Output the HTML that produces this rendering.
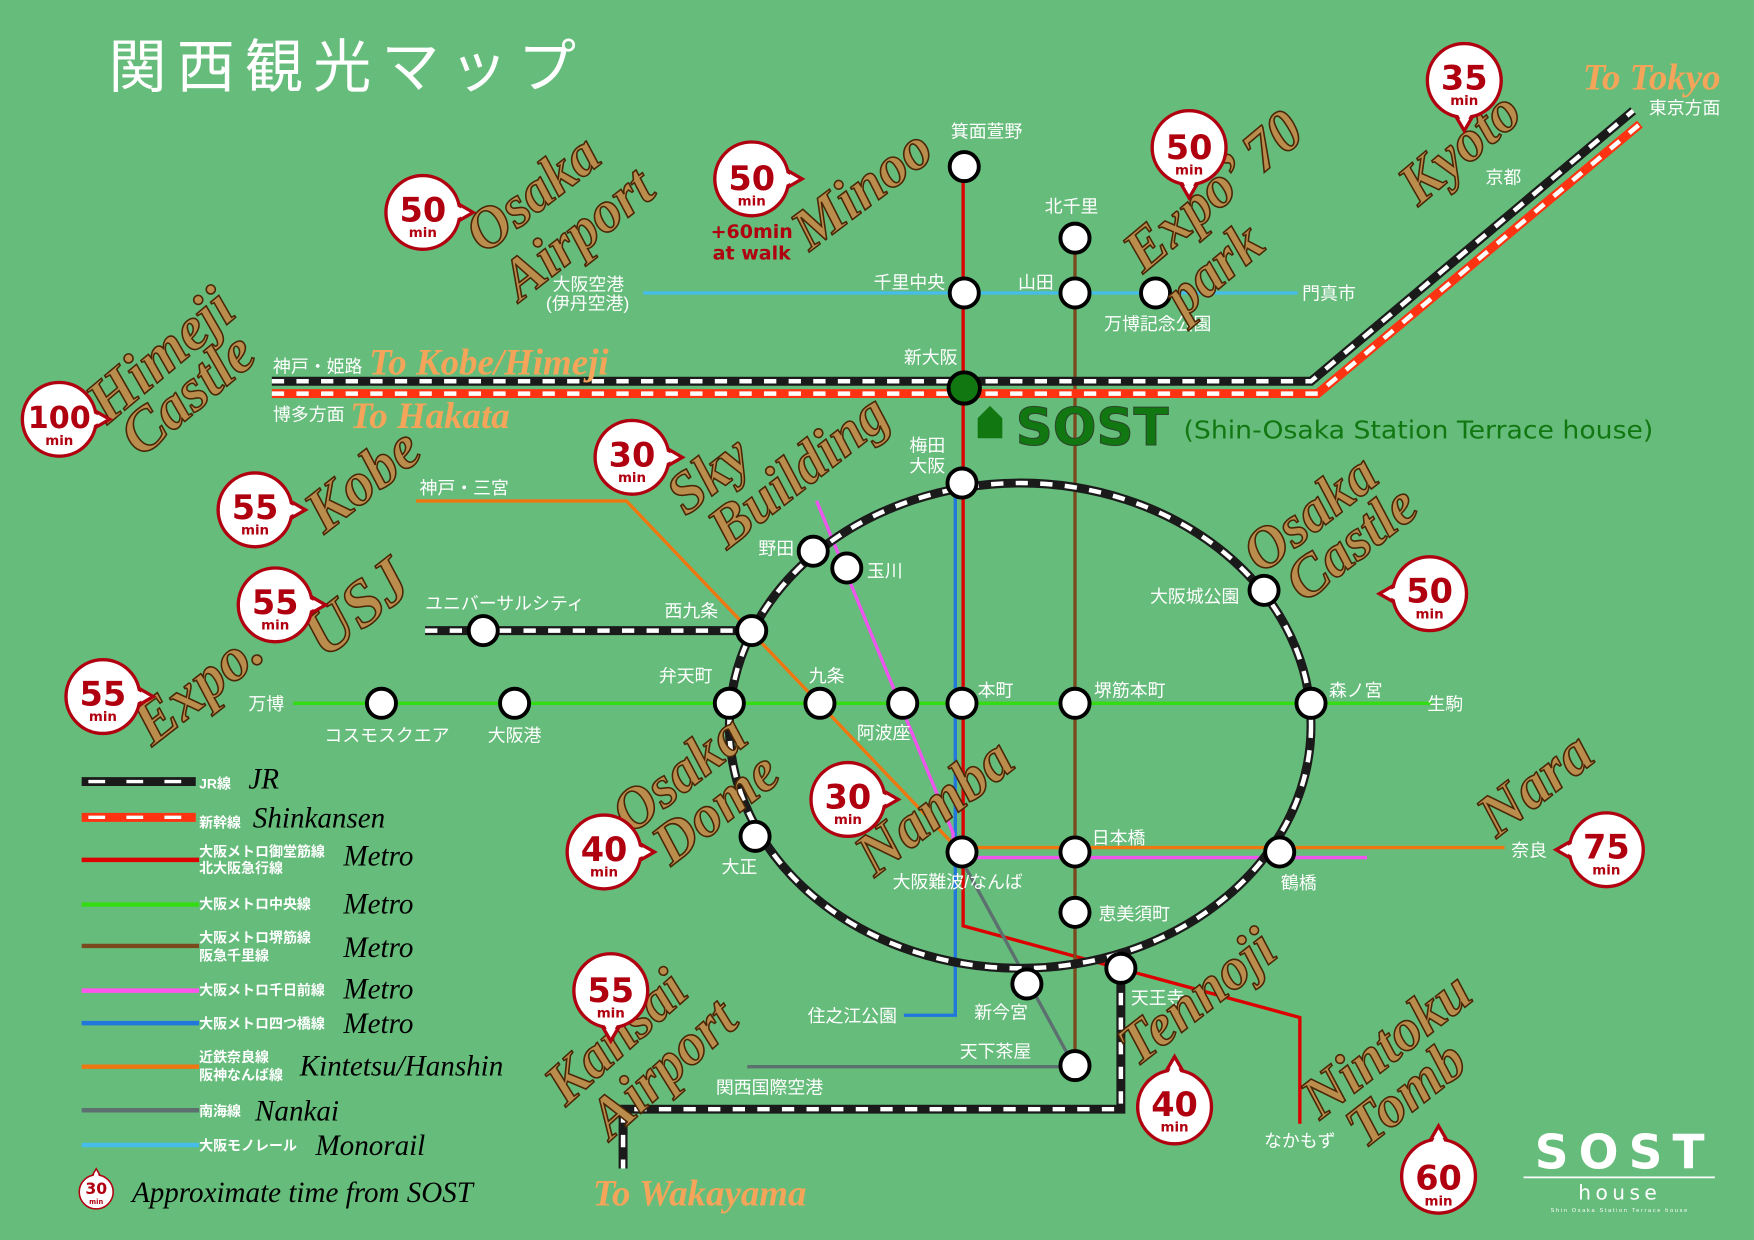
<!DOCTYPE html>
<html><head><meta charset="utf-8"><style>
html,body{margin:0;padding:0;background:#66bc7b;}
svg{display:block}
.w{fill:#fff;font-family:"Liberation Sans","Noto Sans CJK JP",sans-serif;font-size:16px}
.b{fill:#bb8d4c;stroke:#4a2606;stroke-width:1.4;font-family:"Liberation Serif",serif;font-style:italic;font-weight:bold;font-size:52px}
.o{fill:#f4a55a;font-family:"Liberation Serif",serif;font-style:italic;font-weight:bold;font-size:33px}
.n{fill:#b00010;font-family:"DejaVu Sans","Liberation Sans",sans-serif;font-weight:bold;text-anchor:middle}
.lg{fill:#fff;font-family:"Liberation Sans","Noto Sans CJK JP",sans-serif;font-weight:bold;font-size:12.5px}
.li{fill:#000;font-family:"Liberation Serif",serif;font-style:italic;font-size:26px}
</style></head><body>
<svg width="1754" height="1240" viewBox="0 0 1568 1109" preserveAspectRatio="none" xmlns="http://www.w3.org/2000/svg">
<defs>
<g id="bb"><polygon points="26,-11 45,0 26,11" fill="#fff" stroke="#b00010" stroke-width="3"/><circle r="33" fill="#fff" stroke="#b00010" stroke-width="3"/><polygon points="24,-9 41,0 24,9" fill="#fff"/></g>
<g id="st"><circle r="13" fill="#fff" stroke="#000" stroke-width="3.5"/></g>
</defs>
<rect width="1568" height="1109" fill="#66bc7b"/>
<text x="97" y="78" fill="#fff" font-family="Liberation Sans,Noto Sans CJK JP,sans-serif" font-size="52" letter-spacing="9">関西観光マップ</text>

<g fill="none" stroke-width="3">
<path d="M575,262 H1160" stroke="#45bde8"/>
<path d="M861,148 V828 L1162,910 V1005" stroke="#dd0000"/>
<path d="M961,213 V953" stroke="#7a4a1e"/>
<path d="M262,629 H1280" stroke="#33dd11"/>
<path d="M854,432 V908 H808" stroke="#2277dd"/>
<path d="M372,448 H560 L855,758 H1345" stroke="#ee7711"/>
<path d="M730,448 L852,745 V767 H1222" stroke="#ee55ee"/>
<path d="M860,770 L960,953 M668,954 H960" stroke="#5d7070"/>
</g>
<g fill="none">
<path d="M243,341 H1172 L1460,99" stroke="#1a1a1a" stroke-width="8"/>
<path d="M243,341 H1172 L1460,99" stroke="#fff" stroke-width="4" stroke-dasharray="11 11"/>
<path d="M243,352 H1178 L1466,111" stroke="#ff3311" stroke-width="8"/>
<path d="M243,352 H1178 L1466,111" stroke="#fff" stroke-width="4" stroke-dasharray="11 11"/>
<ellipse cx="912" cy="649" rx="260" ry="217" stroke="#1a1a1a" stroke-width="8"/>
<ellipse cx="912" cy="649" rx="260" ry="217" stroke="#fff" stroke-width="4" stroke-dasharray="11 11"/>
<path d="M380,564 H672 M1002,866 V992 H557 V1045" stroke="#1a1a1a" stroke-width="8"/>
<path d="M380,564 H672 M1002,866 V992 H557 V1045" stroke="#fff" stroke-width="4" stroke-dasharray="11 11"/>
</g>
<use href="#st" x="862" y="149"/><use href="#st" x="961" y="213"/><use href="#st" x="862" y="262"/><use href="#st" x="961" y="262"/><use href="#st" x="1033" y="262"/>
<circle cx="862" cy="347" r="14" fill="#117711" stroke="#000" stroke-width="3.5"/>
<use href="#st" x="860" y="432"/><use href="#st" x="727" y="493"/><use href="#st" x="757" y="508"/><use href="#st" x="672" y="564"/><use href="#st" x="432" y="564"/><use href="#st" x="1130" y="528"/>
<use href="#st" x="652" y="629"/><use href="#st" x="733" y="629"/><use href="#st" x="807" y="629"/><use href="#st" x="860" y="629"/><use href="#st" x="961" y="629"/><use href="#st" x="1172" y="629"/><use href="#st" x="341" y="629"/><use href="#st" x="460" y="629"/>
<use href="#st" x="675" y="748"/><use href="#st" x="860" y="762"/><use href="#st" x="961" y="762"/><use href="#st" x="1144" y="762"/><use href="#st" x="961" y="816"/><use href="#st" x="918" y="880"/><use href="#st" x="1002" y="866"/><use href="#st" x="961" y="953"/>

<g class="w">
<text x="850" y="123">箕面萱野</text><text x="934" y="190">北千里</text>
<text x="781" y="258">千里中央</text><text x="910" y="258">山田</text><text x="987" y="295">万博記念公園</text><text x="1164" y="268">門真市</text>
<text x="494" y="260">大阪空港</text><text x="488" y="277">(伊丹空港)</text>
<text x="808" y="325">新大阪</text><text x="244" y="333">神戸・姫路</text><text x="244" y="376">博多方面</text>
<text x="1474" y="102">東京方面</text><text x="1328" y="164">京都</text>
<text x="813" y="404">梅田</text><text x="813" y="422">大阪</text>
<text x="375" y="442">神戸・三宮</text><text x="678" y="496">野田</text><text x="775" y="516">玉川</text>
<text x="380" y="545">ユニバーサルシティ</text><text x="594" y="552">西九条</text><text x="1028" y="539">大阪城公園</text>
<text x="589" y="610">弁天町</text><text x="723" y="610">九条</text><text x="874" y="623">本町</text><text x="978" y="623">堺筋本町</text><text x="1188" y="623">森ノ宮</text><text x="1276" y="635">生駒</text>
<text x="222" y="635">万博</text><text x="290" y="663">コスモスクエア</text><text x="436" y="663">大阪港</text><text x="766" y="661">阿波座</text>
<text x="976" y="755">日本橋</text><text x="1351" y="766">奈良</text><text x="645" y="781">大正</text><text x="798" y="794">大阪難波/なんば</text><text x="1145" y="795">鶴橋</text>
<text x="982" y="823">恵美須町</text><text x="1011" y="898">天王寺</text><text x="871" y="911">新今宮</text><text x="722" y="914">住之江公園</text>
<text x="858" y="946">天下茶屋</text><text x="640" y="978">関西国際空港</text><text x="1130" y="1026">なかもず</text>
</g>

<path d="M874,392 V374 L885,363 L896,374 V392 Z" fill="#117711"/>
<text x="908" y="398" fill="#117711" stroke="#2a4a2a" stroke-width="1" font-family="DejaVu Sans,Liberation Sans,sans-serif" font-weight="bold" font-size="46">SOST</text>
<text x="1058" y="392" fill="#117711" font-family="DejaVu Sans,Liberation Sans,sans-serif" font-size="22" textLength="420" lengthAdjust="spacingAndGlyphs">(Shin-Osaka Station Terrace house)</text>

<text class="o" x="1415" y="80">To Tokyo</text>
<text class="o" x="330" y="335">To Kobe/Himeji</text>
<text class="o" x="313" y="383">To Hakata</text>
<text class="o" x="530" y="1078">To Wakayama</text>

<g class="b">
<text transform="translate(433,228) rotate(-38)">Osaka</text>
<text transform="translate(465,270) rotate(-38)">Airport</text>
<text transform="translate(724,225) rotate(-37)">Minoo</text>
<text transform="translate(1022,245) rotate(-40)">Expo’ 70</text>
<text transform="translate(1058,285) rotate(-40)">park</text>
<text transform="translate(1268,185) rotate(-40)">Kyoto</text>
<text transform="translate(96,380) rotate(-40)" font-size="54">Himeji</text>
<text transform="translate(126,410) rotate(-40)" font-size="54">Castle</text>
<text transform="translate(613,462) rotate(-38)">Sky</text>
<text transform="translate(650,492) rotate(-38)">Building</text>
<text transform="translate(290,478) rotate(-38)" font-size="54">Kobe</text>
<text transform="translate(290,590) rotate(-38)" font-size="58">USJ</text>
<text transform="translate(136,668) rotate(-38)" font-size="54">Expo.</text>
<text transform="translate(1128,514) rotate(-38)">Osaka</text>
<text transform="translate(1166,540) rotate(-38)">Castle</text>
<text transform="translate(564,747) rotate(-38)">Osaka</text>
<text transform="translate(600,775) rotate(-38)">Dome</text>
<text transform="translate(782,785) rotate(-38)" font-size="54">Namba</text>
<text transform="translate(1338,750) rotate(-38)" font-size="54">Nara</text>
<text transform="translate(506,990) rotate(-42)" font-size="52">Kansai</text>
<text transform="translate(546,1020) rotate(-42)" font-size="52">Airport</text>
<text transform="translate(1016,955) rotate(-38)" font-size="52">Tennoji</text>
<text transform="translate(1180,1002) rotate(-38)" font-size="52">Nintoku</text>
<text transform="translate(1220,1028) rotate(-38)" font-size="52">Tomb</text>
</g>

<g>
<use href="#bb" transform="translate(378,190)"/><text class="n" x="378" y="198" font-size="30">50</text><text class="n" x="378" y="212" font-size="12">min</text>
<use href="#bb" transform="translate(672,160)"/><text class="n" x="672" y="170" font-size="30">50</text><text class="n" x="672" y="184" font-size="12">min</text>
<text class="n" x="672" y="213" font-size="17">+60min</text><text class="n" x="672" y="232" font-size="17">at walk</text>
<use href="#bb" transform="translate(1063,132) rotate(90)"/><text class="n" x="1063" y="142" font-size="30">50</text><text class="n" x="1063" y="156" font-size="12">min</text>
<use href="#bb" transform="translate(1309,72) rotate(90)"/><text class="n" x="1309" y="80" font-size="30">35</text><text class="n" x="1309" y="94" font-size="12">min</text>
<use href="#bb" transform="translate(53,375)"/><text class="n" x="53" y="383" font-size="27">100</text><text class="n" x="53" y="398" font-size="12">min</text>
<use href="#bb" transform="translate(565,409)"/><text class="n" x="565" y="417" font-size="30">30</text><text class="n" x="565" y="431" font-size="12">min</text>
<use href="#bb" transform="translate(228,456)"/><text class="n" x="228" y="464" font-size="30">55</text><text class="n" x="228" y="478" font-size="12">min</text>
<use href="#bb" transform="translate(246,541)"/><text class="n" x="246" y="549" font-size="30">55</text><text class="n" x="246" y="563" font-size="12">min</text>
<use href="#bb" transform="translate(92,623)"/><text class="n" x="92" y="631" font-size="30">55</text><text class="n" x="92" y="645" font-size="12">min</text>
<use href="#bb" transform="translate(1278,531) rotate(180)"/><text class="n" x="1278" y="539" font-size="30">50</text><text class="n" x="1278" y="553" font-size="12">min</text>
<use href="#bb" transform="translate(758,715)"/><text class="n" x="758" y="723" font-size="30">30</text><text class="n" x="758" y="737" font-size="12">min</text>
<use href="#bb" transform="translate(540,762)"/><text class="n" x="540" y="770" font-size="30">40</text><text class="n" x="540" y="784" font-size="12">min</text>
<use href="#bb" transform="translate(1436,760) rotate(180)"/><text class="n" x="1436" y="768" font-size="30">75</text><text class="n" x="1436" y="782" font-size="12">min</text>
<use href="#bb" transform="translate(546,886) rotate(90)"/><text class="n" x="546" y="896" font-size="30">55</text><text class="n" x="546" y="910" font-size="12">min</text>
<use href="#bb" transform="translate(1050,990) rotate(-90)"/><text class="n" x="1050" y="998" font-size="30">40</text><text class="n" x="1050" y="1012" font-size="12">min</text>
<use href="#bb" transform="translate(1286,1052) rotate(-90)"/><text class="n" x="1286" y="1064" font-size="30">60</text><text class="n" x="1286" y="1078" font-size="12">min</text>
<use href="#bb" transform="translate(86,1066) rotate(-90) scale(0.46)"/><text class="n" x="86" y="1068" font-size="14">30</text><text class="n" x="86" y="1077" font-size="6">min</text>
</g>

<g>
<line x1="73" y1="699" x2="175" y2="699" stroke="#1a1a1a" stroke-width="8"/><line x1="79" y1="699" x2="175" y2="699" stroke="#fff" stroke-width="3" stroke-dasharray="15 19"/>
<line x1="73" y1="731" x2="175" y2="731" stroke="#ff3311" stroke-width="8"/><line x1="79" y1="731" x2="175" y2="731" stroke="#fff" stroke-width="3" stroke-dasharray="15 19"/>
<line x1="73" y1="769" x2="178" y2="769" stroke="#dd0000" stroke-width="4"/>
<line x1="73" y1="809" x2="178" y2="809" stroke="#33dd11" stroke-width="4"/>
<line x1="73" y1="846" x2="178" y2="846" stroke="#7a4a1e" stroke-width="4"/>
<line x1="73" y1="886" x2="178" y2="886" stroke="#ff55ee" stroke-width="4"/>
<line x1="73" y1="915" x2="178" y2="915" stroke="#2277dd" stroke-width="4"/>
<line x1="73" y1="954" x2="178" y2="954" stroke="#ee7711" stroke-width="4"/>
<line x1="73" y1="993" x2="178" y2="993" stroke="#5d7070" stroke-width="4"/>
<line x1="73" y1="1024" x2="178" y2="1024" stroke="#45bde8" stroke-width="4"/>
<g class="lg">
<text x="178" y="705">JR線</text><text x="178" y="740">新幹線</text>
<text x="178" y="766">大阪メトロ御堂筋線</text><text x="178" y="781">北大阪急行線</text>
<text x="178" y="813">大阪メトロ中央線</text>
<text x="178" y="843">大阪メトロ堺筋線</text><text x="178" y="859">阪急千里線</text>
<text x="178" y="890">大阪メトロ千日前線</text><text x="178" y="920">大阪メトロ四つ橋線</text>
<text x="178" y="950">近鉄奈良線</text><text x="178" y="966">阪神なんば線</text>
<text x="178" y="998">南海線</text><text x="178" y="1029">大阪モノレール</text>
</g>
<g class="li">
<text x="222" y="705">JR</text><text x="226" y="740">Shinkansen</text><text x="307" y="774">Metro</text><text x="307" y="817">Metro</text><text x="307" y="856">Metro</text><text x="307" y="893">Metro</text><text x="307" y="924">Metro</text><text x="268" y="962">Kintetsu/Hanshin</text><text x="228" y="1002">Nankai</text><text x="282" y="1033">Monorail</text>
<text x="118" y="1075">Approximate time from SOST</text>
</g>
</g>

<text x="1372" y="1045" fill="#fff" font-family="DejaVu Sans,Liberation Sans,sans-serif" font-weight="bold" font-size="42" letter-spacing="9">SOST</text>
<line x1="1362" y1="1053" x2="1533" y2="1053" stroke="#fff" stroke-width="1.5"/>
<text x="1448" y="1073" fill="#fff" text-anchor="middle" font-family="DejaVu Sans,Liberation Sans,sans-serif" font-size="18" letter-spacing="4">house</text>
<text x="1448" y="1084" fill="#fff" text-anchor="middle" font-family="Liberation Sans,sans-serif" font-size="5" letter-spacing="1.5">Shin Osaka Station Terrace house</text>
</svg>
</body></html>
